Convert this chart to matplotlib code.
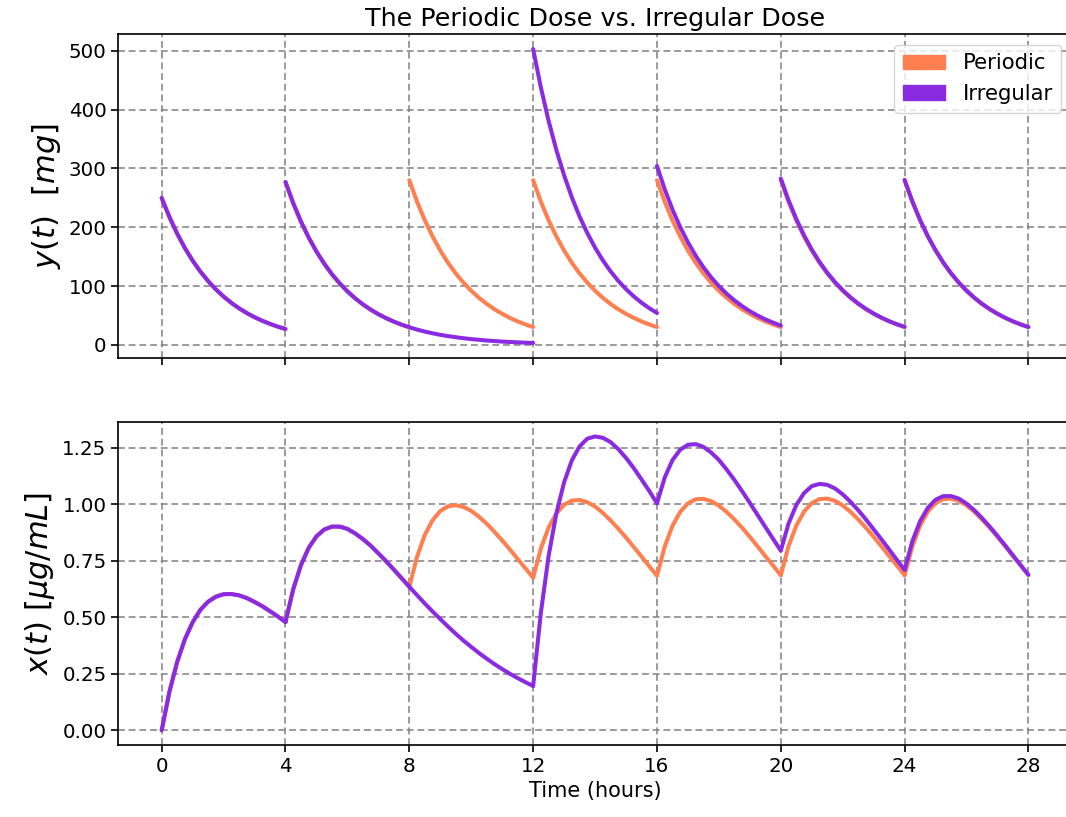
# plot.py
# Periodic vs irregular dosing: drug in gut y(t) and blood concentration x(t)

import matplotlib
matplotlib.use('Agg')
import matplotlib.pyplot as plt
from matplotlib.patches import Patch

# dose times (hours) and time offsets inside each 4 hour window
dose_times = [0, 4, 8, 12, 16, 20, 24]
offsets = [0, 0.25, 0.5, 0.75, 1.0, 1.25, 1.5, 1.75, 2.0,
           2.25, 2.5, 2.75, 3.0, 3.25, 3.5, 3.75, 4.0]

# y(t) [mg], one list per dosing window
y_periodic = [
    [250, 217.5, 189.3, 164.7, 143.3, 124.7, 108.5, 94.4, 82.2, 71.5, 62.2, 54.1, 47.1, 41.0, 35.7, 31.0, 27.0],
    [277, 241.0, 209.7, 182.5, 158.8, 138.2, 120.2, 104.6, 91.0, 79.2, 68.9, 60.0, 52.2, 45.4, 39.5, 34.4, 29.9],
    [280, 243.6, 212.0, 184.5, 160.5, 139.7, 121.5, 105.8, 92.0, 80.1, 69.7, 60.6, 52.8, 45.9, 39.9, 34.8, 30.2],
    [280, 243.6, 212.0, 184.5, 160.5, 139.7, 121.5, 105.8, 92.0, 80.1, 69.7, 60.6, 52.8, 45.9, 39.9, 34.8, 30.2],
    [280, 243.6, 212.0, 184.5, 160.5, 139.7, 121.5, 105.8, 92.0, 80.1, 69.7, 60.6, 52.8, 45.9, 39.9, 34.8, 30.2],
    [280, 243.6, 212.0, 184.5, 160.5, 139.7, 121.5, 105.8, 92.0, 80.1, 69.7, 60.6, 52.8, 45.9, 39.9, 34.8, 30.2],
    [280, 243.6, 212.0, 184.5, 160.5, 139.7, 121.5, 105.8, 92.0, 80.1, 69.7, 60.6, 52.8, 45.9, 39.9, 34.8, 30.2],
]
y_irregular = [
    [250, 217.5, 189.3, 164.7, 143.3, 124.7, 108.5, 94.4, 82.2, 71.5, 62.2, 54.1, 47.1, 41.0, 35.7, 31.0, 27.0],
    [277, 241.0, 209.7, 182.5, 158.8, 138.2, 120.2, 104.6, 91.0, 79.2, 68.9, 60.0, 52.2, 45.4, 39.5, 34.4, 29.9],
    [29.9, 26.0, 22.6, 19.7, 17.1, 14.9, 13.0, 11.3, 9.8, 8.6, 7.4, 6.5, 5.6, 4.9, 4.3, 3.7, 3.2],
    [503.2, 437.8, 381.0, 331.5, 288.5, 251.0, 218.4, 190.1, 165.4, 143.9, 125.2, 108.9, 94.8, 82.5, 71.8, 62.4, 54.3],
    [304.3, 264.8, 230.4, 200.5, 174.5, 151.8, 132.1, 114.9, 100.0, 87.0, 75.7, 65.9, 57.3, 49.9, 43.4, 37.8, 32.9],
    [282.9, 246.1, 214.2, 186.4, 162.2, 141.1, 122.8, 106.8, 93.0, 80.9, 70.4, 61.2, 53.3, 46.4, 40.3, 35.1, 30.6],
    [280.6, 244.2, 212.4, 184.9, 160.9, 140.0, 121.8, 106.0, 92.2, 80.3, 69.8, 60.8, 52.9, 46.0, 40.0, 34.8, 30.3],
]

# x(t) [ug/mL]
x_periodic = [
    [0.0, 0.170, 0.302, 0.403, 0.478, 0.533, 0.569, 0.591, 0.602, 0.603, 0.597, 0.585, 0.568, 0.549, 0.527, 0.504, 0.479],
    [0.479, 0.624, 0.731, 0.807, 0.858, 0.888, 0.901, 0.901, 0.891, 0.871, 0.846, 0.817, 0.783, 0.748, 0.711, 0.673, 0.635],
    [0.635, 0.768, 0.864, 0.929, 0.970, 0.991, 0.996, 0.988, 0.971, 0.945, 0.914, 0.878, 0.840, 0.800, 0.758, 0.717, 0.675],
    [0.675, 0.804, 0.897, 0.959, 0.998, 1.016, 1.019, 1.009, 0.990, 0.962, 0.929, 0.892, 0.853, 0.811, 0.769, 0.726, 0.684],
    [0.684, 0.812, 0.904, 0.966, 1.004, 1.022, 1.024, 1.014, 0.994, 0.966, 0.933, 0.896, 0.856, 0.814, 0.771, 0.729, 0.686],
    [0.686, 0.814, 0.905, 0.967, 1.005, 1.023, 1.025, 1.015, 0.995, 0.967, 0.933, 0.896, 0.856, 0.814, 0.771, 0.729, 0.686],
    [0.686, 0.814, 0.905, 0.967, 1.005, 1.023, 1.025, 1.015, 0.995, 0.967, 0.933, 0.896, 0.856, 0.814, 0.771, 0.729, 0.686],
]
x_irregular = [
    [0.0, 0.170, 0.302, 0.403, 0.478, 0.533, 0.569, 0.591, 0.602, 0.603, 0.597, 0.585, 0.568, 0.549, 0.527, 0.504, 0.479],
    [0.479, 0.624, 0.731, 0.807, 0.858, 0.888, 0.901, 0.901, 0.891, 0.871, 0.846, 0.817, 0.783, 0.748, 0.711, 0.673, 0.635],
    [0.635, 0.598, 0.561, 0.526, 0.492, 0.459, 0.427, 0.397, 0.369, 0.342, 0.317, 0.293, 0.271, 0.250, 0.231, 0.213, 0.196],
    [0.196, 0.520, 0.771, 0.959, 1.097, 1.194, 1.256, 1.290, 1.300, 1.294, 1.275, 1.244, 1.205, 1.160, 1.110, 1.059, 1.004],
    [1.004, 1.118, 1.195, 1.241, 1.263, 1.266, 1.254, 1.229, 1.196, 1.154, 1.108, 1.058, 1.006, 0.953, 0.900, 0.847, 0.795],
    [0.795, 0.914, 0.996, 1.049, 1.080, 1.090, 1.086, 1.070, 1.044, 1.011, 0.974, 0.933, 0.889, 0.845, 0.800, 0.754, 0.710],
    [0.710, 0.836, 0.925, 0.984, 1.020, 1.036, 1.036, 1.025, 1.003, 0.974, 0.939, 0.901, 0.860, 0.818, 0.774, 0.731, 0.688],
]

periodic_color = 'coral'
irregular_color = 'blueviolet'
tick_hours = [0, 4, 8, 12, 16, 20, 24, 28]

fig = plt.figure(figsize=(10.66, 8.17), dpi=100)
ax1 = fig.add_axes([0.111, 0.5622, 0.8944, 0.3958])
ax2 = fig.add_axes([0.111, 0.0881, 0.8944, 0.3957], sharex=ax1)

for ax, per, irr in [(ax1, y_periodic, y_irregular), (ax2, x_periodic, x_irregular)]:
    for i, t0 in enumerate(dose_times):
        t = [t0 + o for o in offsets]
        ax.plot(t, per[i], color=periodic_color, lw=2.9, solid_capstyle='round')
    for i, t0 in enumerate(dose_times):
        t = [t0 + o for o in offsets]
        ax.plot(t, irr[i], color=irregular_color, lw=2.9, solid_capstyle='round')
    ax.grid(True, linestyle=(0, (4.5, 2.5)), color='gray', linewidth=1.1)
    ax.tick_params(labelsize=14.3, length=5, width=1.2)
    for s in ax.spines.values():
        s.set_linewidth(1.2)

ax1.set_xticks(tick_hours)
ax1.tick_params(labelbottom=False)
ax1.set_yticks([0, 100, 200, 300, 400, 500])
ax2.set_yticks([0.0, 0.25, 0.5, 0.75, 1.0, 1.25])
ax2.set_yticklabels(['0.00', '0.25', '0.50', '0.75', '1.00', '1.25'])

ax1.set_ylabel(r'$y(t)$  $[mg]$', fontsize=22)
ax2.set_ylabel(r'$x(t)$ $[\mu g/mL]$', fontsize=22)
ax2.set_xlabel('Time (hours)', fontsize=15)
ax1.set_title('The Periodic Dose vs. Irregular Dose', fontsize=18.3)

handles = [Patch(color=periodic_color, label='Periodic'),
           Patch(color=irregular_color, label='Irregular')]
ax1.legend(handles=handles, loc='upper right', fontsize=15.3)

fig.savefig('out.png', dpi=100)
